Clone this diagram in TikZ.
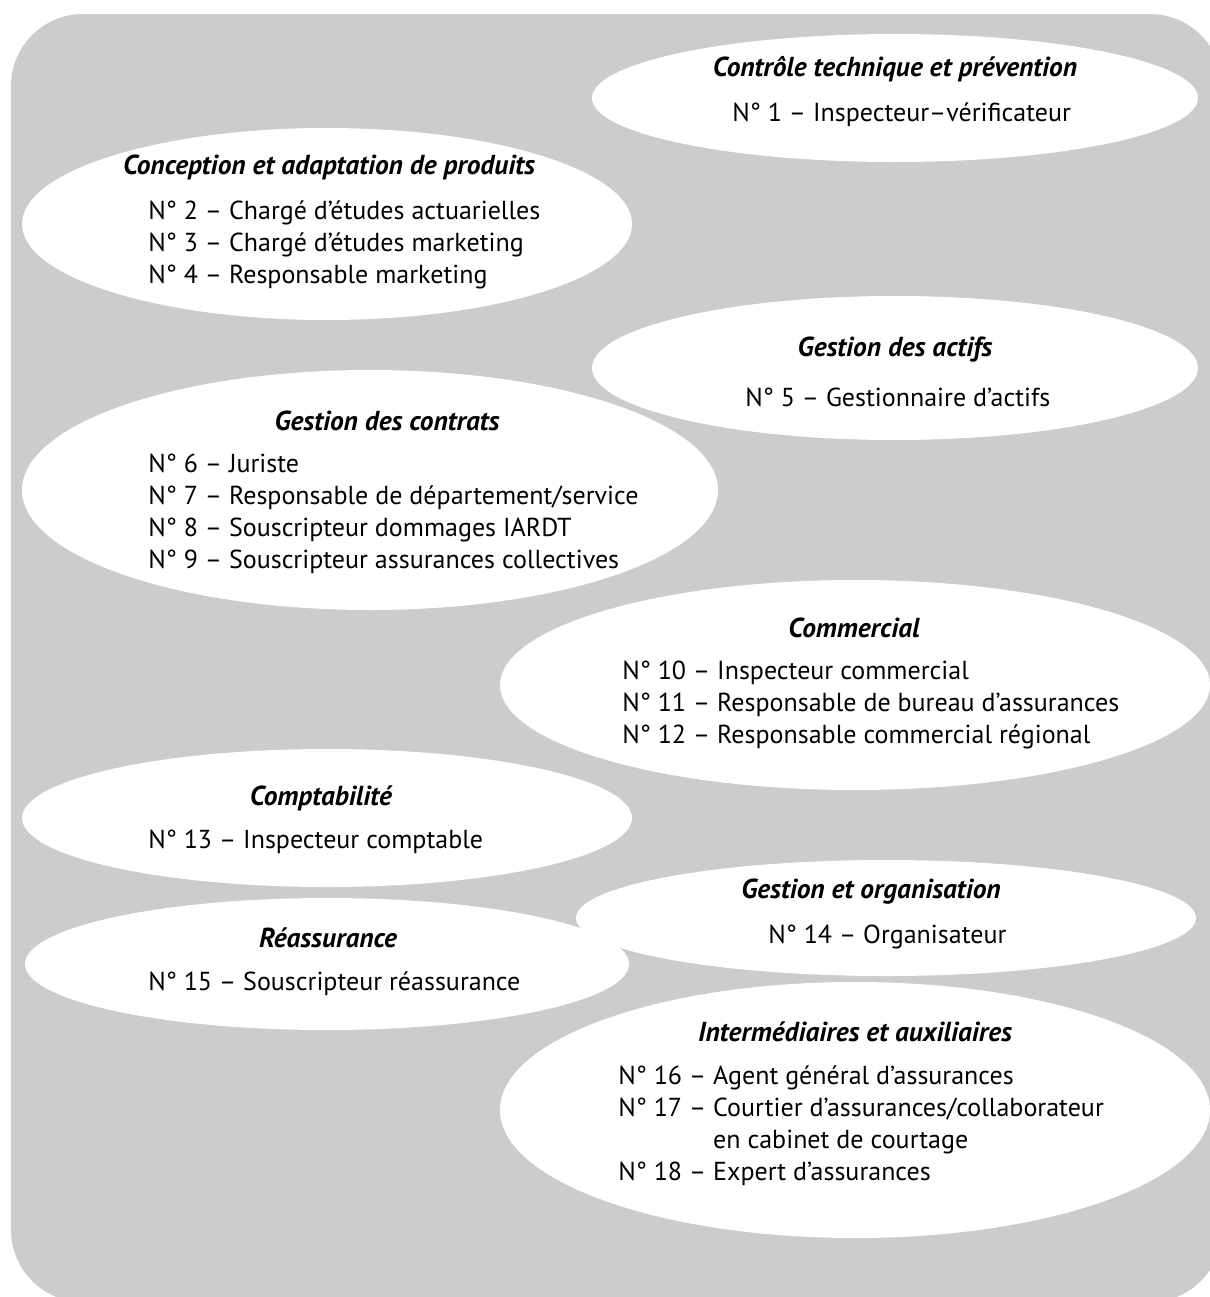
\documentclass[tikz,border=0pt]{standalone}
\usepackage{fontspec}
\setmainfont{PT Sans}
\usetikzlibrary{positioning}
\definecolor{panelgrey}{HTML}{CCCCCC}

\begin{document}
\begin{tikzpicture}[x=0.025cm, y=-0.025cm,
    title/.style={font=\fontsize{19.5}{22}\selectfont\bfseries\itshape},
    jobs/.style={font=\fontsize{18.5}{22.76}\selectfont, align=left, anchor=west, inner sep=0pt}]
  \useasboundingbox (0,0) rectangle (1210,1297);
  \clip (0,0) rectangle (1210,1297);
  \fill [panelgrey, rounded corners=1.8cm] (11,14) rectangle (1222,1302);

  \fill [white] (895,98) ellipse [x radius=303, y radius=64];
  \fill [white] (327,224) ellipse [x radius=305, y radius=96];
  \fill [white] (895,368) ellipse [x radius=303, y radius=72];
  \fill [white] (370,490) ellipse [x radius=348, y radius=120];
  \fill [white] (855,685) ellipse [x radius=355, y radius=105];
  \fill [white] (327,818) ellipse [x radius=305, y radius=69];
  \fill [white] (886,918) ellipse [x radius=310, y radius=58];
  \fill [white] (327,964) ellipse [x radius=302, y radius=66];
  \fill [white] (855,1110) ellipse [x radius=355, y radius=128];

  \node [title] (ctrl) at (895,69) {Contrôle technique et prévention};
  \node [jobs] (ctrljobs) at (732,115) {N° 1 – Inspecteur–vérificateur};

  \node [title] (conc) at (329,167) {Conception et adaptation de produits};
  \node [jobs] (concjobs) at (148,244.5) {N° 2 – Chargé d’études actuarielles\\
    N° 3 – Chargé d’études marketing\\
    N° 4 – Responsable marketing};

  \node [title] (actifs) at (895,350) {Gestion des actifs};
  \node [jobs] (actifsjobs) at (745,397) {N° 5 – Gestionnaire d’actifs};

  \node [title] (contrats) at (387,421) {Gestion des contrats};
  \node [jobs] (contratsjobs) at (148,514) {N° 6 – Juriste\\
    N° 7 – Responsable de département/service\\
    N° 8 – Souscripteur dommages IARDT\\
    N° 9 – Souscripteur assurances collectives};

  \node [title] (comm) at (854,628) {Commercial};
  \node [jobs] (commjobs) at (622,705) {N° 10 – Inspecteur commercial\\
    N° 11 – Responsable de bureau d’assurances\\
    N° 12 – Responsable commercial régional};

  \node [title] (compta) at (321,798) {Comptabilité};
  \node [jobs] (comptajobs) at (148,842) {N° 13 – Inspecteur comptable};

  \node [title] (orga) at (871,892) {Gestion et organisation};
  \node [jobs] (orgajobs) at (768,937) {N° 14 – Organisateur};

  \node [title] (reass) at (328,938) {Réassurance};
  \node [jobs] (reassjobs) at (148,984) {N° 15 – Souscripteur réassurance};

  \node [title] (inter) at (855,1032) {Intermédiaires et auxiliaires};
  \node [jobs] (interjobs) at (618,1126) {N° 16 – Agent général d’assurances\\
    N° 17 – Courtier d’assurances/collaborateur\\
    \phantom{N° 17 – }en cabinet de courtage\\
    N° 18 – Expert d’assurances};
\end{tikzpicture}
\end{document}
